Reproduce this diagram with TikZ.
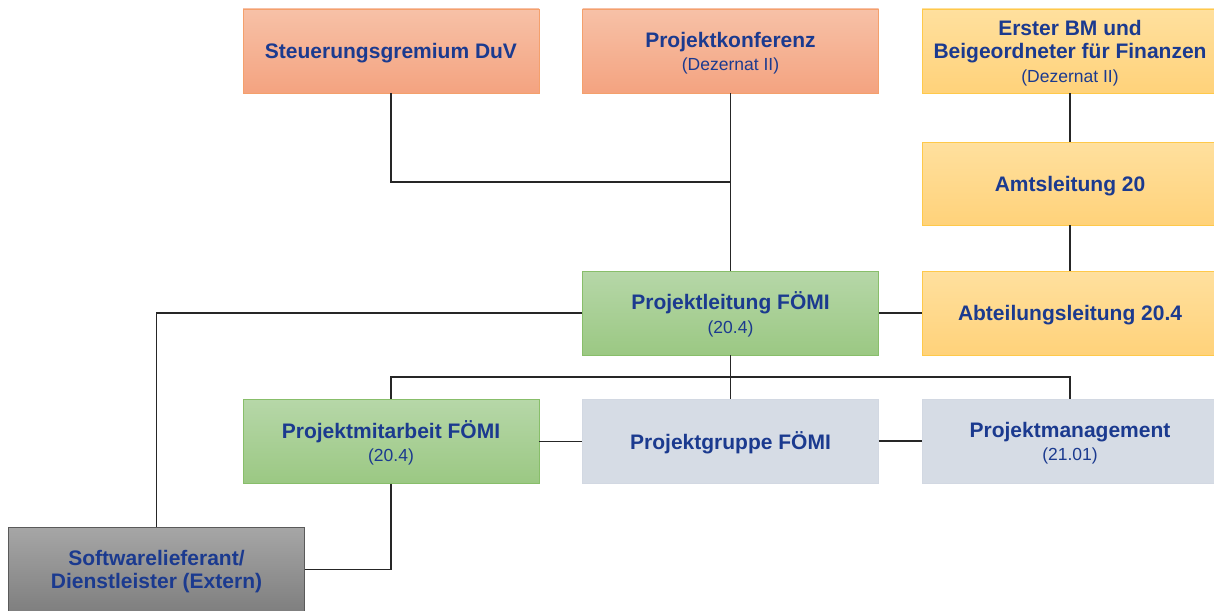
\documentclass[tikz,border=0pt]{standalone}
\usepackage{fontspec}
\setmainfont{Liberation Sans}
\usetikzlibrary{calc}

\definecolor{txtblue}{HTML}{1B3A8F}
\definecolor{orTop}{HTML}{F7C1A7}
\definecolor{orBot}{HTML}{F4A380}
\definecolor{orLine}{HTML}{F4A06C}
\definecolor{yeTop}{HTML}{FFE09E}
\definecolor{yeBot}{HTML}{FFD27A}
\definecolor{yeLine}{HTML}{FFC94A}
\definecolor{grTop}{HTML}{B6D7A8}
\definecolor{grBot}{HTML}{9BC883}
\definecolor{grLine}{HTML}{88BE6A}
\definecolor{bgFill}{HTML}{D6DCE5}
\definecolor{bgLine}{HTML}{D2D8E2}
\definecolor{gyTop}{HTML}{A6A6A6}
\definecolor{gyBot}{HTML}{7F7F7F}
\definecolor{gyLine}{HTML}{5A5A5A}

\tikzset{
  unitbox/.style={rectangle, minimum width=296pt, minimum height=84pt,
    line width=0.9pt, align=center, text=txtblue, inner sep=0pt,
    font=\fontsize{21}{24}\selectfont\bfseries},
  orangebox/.style={unitbox, draw=orLine, top color=orTop, bottom color=orBot},
  yellowbox/.style={unitbox, draw=yeLine, top color=yeTop, bottom color=yeBot},
  greenbox/.style={unitbox, draw=grLine, top color=grTop, bottom color=grBot},
  bluebox/.style={unitbox, draw=bgLine, fill=bgFill},
  greybox/.style={unitbox, draw=gyLine, top color=gyTop, bottom color=gyBot},
  conn/.style={line width=1.4pt, draw=black!85},
}
% lower, lighter second line inside a box
\newcommand{\subline}[1]{\\[-0.5pt]{\fontsize{17.5}{21}\selectfont\mdseries #1}}
% box label, nudged slightly downwards while keeping its size
\newcommand{\boxlabel}[1]{\raisebox{-3pt}[\height][\depth]{\begin{tabular}{@{}c@{}}#1\end{tabular}}}

\begin{document}
\begin{tikzpicture}[x=1pt, y=-1pt]
  \useasboundingbox (0,0) rectangle (1214,610);

  % top row
  \node[orangebox] (sg)  at (391,51)   {\boxlabel{Steuerungsgremium DuV}};
  \node[orangebox] (pk)  at (730.5,51) {\boxlabel{Projektkonferenz\subline{(Dezernat II)}}};
  \node[yellowbox] (bm)  at (1070,51)  {\boxlabel{Erster BM und\\[-1pt]Beigeordneter für Finanzen\subline{(Dezernat II)}}};

  % finance chain
  \node[yellowbox, minimum height=83pt] (al)  at (1070,183.5) {\boxlabel{Amtsleitung 20}};
  \node[yellowbox] (abt) at (1070,313) {\boxlabel{Abteilungsleitung 20.4}};

  % project lead
  \node[greenbox] (pl) at (730.5,313) {\boxlabel{Projektleitung FÖMI\subline{(20.4)}}};

  % project team row
  \node[greenbox] (pm)  at (391,441.5) {\boxlabel{Projektmitarbeit FÖMI\subline{(20.4)}}};
  \node[bluebox]  (pg)  at (730.5,441) {\boxlabel{Projektgruppe FÖMI}};
  \node[bluebox]  (pmg) at (1070,441)  {\boxlabel{Projektmanagement\subline{(21.01)}}};

  % external supplier
  \node[greybox] (sw) at (156.5,569.5) {\boxlabel{Softwarelieferant/\\[-1pt]Dienstleister (Extern)}};

  % junctions
  \coordinate (top) at ($(pk.south)!.5!(pl.north)$);
  \coordinate (bus) at ($(pl.south)!.5!(pg.north)$);

  % connectors
  \draw[conn] (sg.south) |- (top);
  \draw[conn] (pk.south) -- (pl.north);
  \draw[conn] (bm.south) -- (al.north);
  \draw[conn] (al.south) -- (abt.north);
  \draw[conn] (pl.east) -- (abt.west);
  \draw[conn] (pl.west) -| (sw.north);
  \draw[conn] (pl.south) -- (pg.north);
  \draw[conn] (pm.north) |- (bus) -| (pmg.north);
  \draw[conn] (pm.east) -- (pm.east -| pg.west);
  \draw[conn] (pg.east) -- (pmg.west);
  \draw[conn] (pm.south) |- (sw.east);
\end{tikzpicture}
\end{document}
